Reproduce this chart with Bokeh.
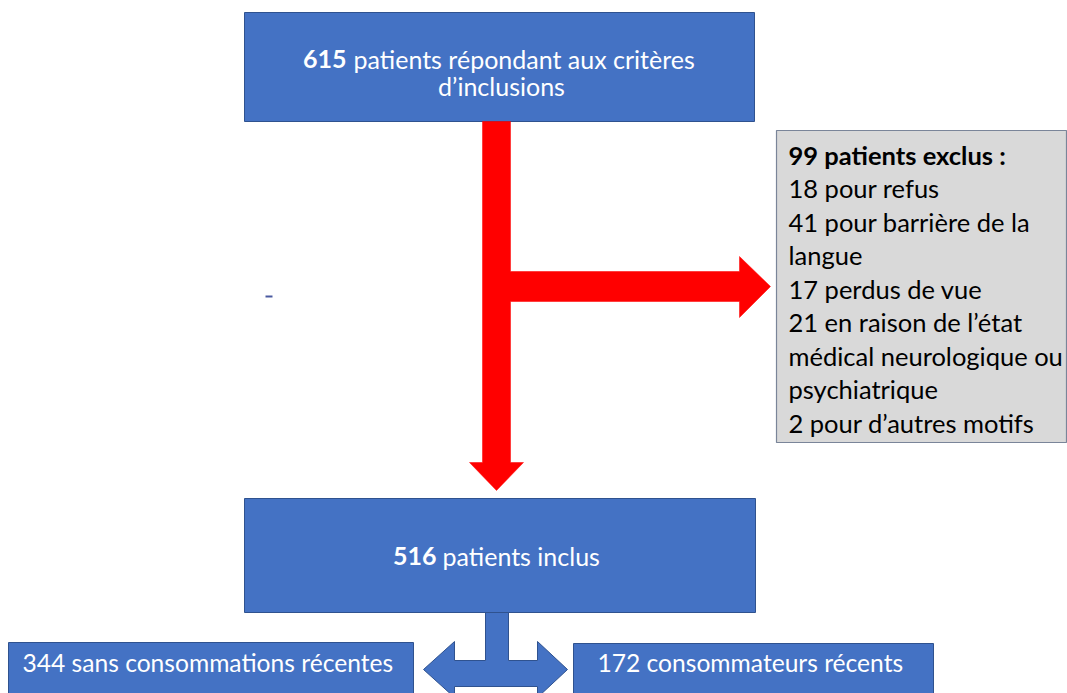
from bokeh.plotting import figure
from bokeh.models import Range1d
from bokeh.embed import file_html
from bokeh.resources import INLINE
from bokeh.core.properties import value

# ---------------- data ----------------
screened_n = 615
screened_label = "patients répondant aux critères\nd’inclusions"
excluded_n = 99
excluded_label = "patients exclus :"
excluded_counts = [18, 41, 17, 21, 2]
excluded_reasons = ["pour refus",
                    "pour barrière de la\nlangue",
                    " perdus de vue",
                    "en raison de l’état\nmédical neurologique ou\npsychiatrique",
                    "pour d’autres motifs"]
included_n = 516
included_label = "patients inclus"
group_counts = [344, 172]
group_labels = ["sans consommations récentes", "consommateurs récents"]

# ---------------- style ----------------
BLUE = "#4472C4"
BLUE_EDGE = "#2F528F"
RED = "#FF0000"
GREY = "#D9D9D9"
GREY_EDGE = "#7A8599"
FONT = value("Lato")

W, H = 1067, 693
p = figure(width=W, height=H, output_backend="svg", toolbar_location=None,
           x_range=Range1d(0, W), y_range=Range1d(H, 0),
           min_border=0, tools="")
p.axis.visible = False
p.grid.visible = False
p.outline_line_color = None
p.background_fill_color = "white"

# ---------------- layout (pixel coords, y downwards) ----------------
boxes = {
    "top": (244, 754, 12, 121),
    "mid": (244, 755, 498, 612),
    "left": (8, 413, 642, 710),
    "right": (573, 933, 643, 710),
}
for k, (x0, x1, y0, y1) in boxes.items():
    p.quad(left=x0, right=x1, top=y0, bottom=y1, fill_color=BLUE,
           line_color=BLUE_EDGE, line_width=1)

# grey exclusion box
p.quad(left=776, right=1066, top=130, bottom=442, fill_color=GREY,
       line_color=GREY_EDGE, line_width=1.2)

# red T arrow
vx0, vx1 = 482, 510
red_xs = [vx0, vx1, vx1, 739, 739, 770, 739, 739, vx1, vx1, 523, 496, 469, vx0]
red_ys = [121, 121, 271, 271, 256, 286, 317, 301, 301, 462, 462, 490, 462, 462]
p.patch(red_xs, red_ys, fill_color=RED, line_color=RED, line_width=0.5)

# blue stem + double arrow
blue_xs = [485, 508, 508, 537, 537, 567, 537, 537, 454, 454, 423, 454, 454, 485]
blue_ys = [612, 612, 660, 660, 641, 669, 697, 686, 686, 697, 669, 641, 660, 660]
p.patch(blue_xs, blue_ys, fill_color=BLUE, line_color=BLUE_EDGE, line_width=1)

# tiny stray dash
p.segment(x0=265, y0=296, x1=272, y1=296, line_color="#4A5AA0", line_width=2)

# ---------------- texts ----------------
def txt(x, y, s, size, color="white", bold=False, align="left"):
    p.text(x=[x], y=[y], text=[s], text_font=FONT, text_font_size=size,
           text_color=color, text_align=align, text_baseline="middle",
           text_font_style="bold" if bold else "normal")

top_lines = screened_label.split("\n")
txt(346, 58, str(screened_n), "25px", bold=True, align="right")
txt(353, 58, top_lines[0], "25px")
txt(501, 85, top_lines[1], "25px", align="center")

txt(436, 555, str(included_n), "25px", bold=True, align="right")
txt(442, 555, included_label, "25px")

txt(22, 662, f"{group_counts[0]} {group_labels[0]}", "24.6px")
txt(597, 662, f"{group_counts[1]} {group_labels[1]}", "24.6px")

grey_lines = [(f"{excluded_n} {excluded_label}", True)]
for c, r in zip(excluded_counts, excluded_reasons):
    for i, part in enumerate(r.split("\n")):
        grey_lines.append((f"{c} {part}" if i == 0 else part, False))
for i, (s, b) in enumerate(grey_lines):
    txt(788, 154 + i * 33.5, s, "25.5px", color="black", bold=b)

open("out.html", "w").write(file_html(p, INLINE))
